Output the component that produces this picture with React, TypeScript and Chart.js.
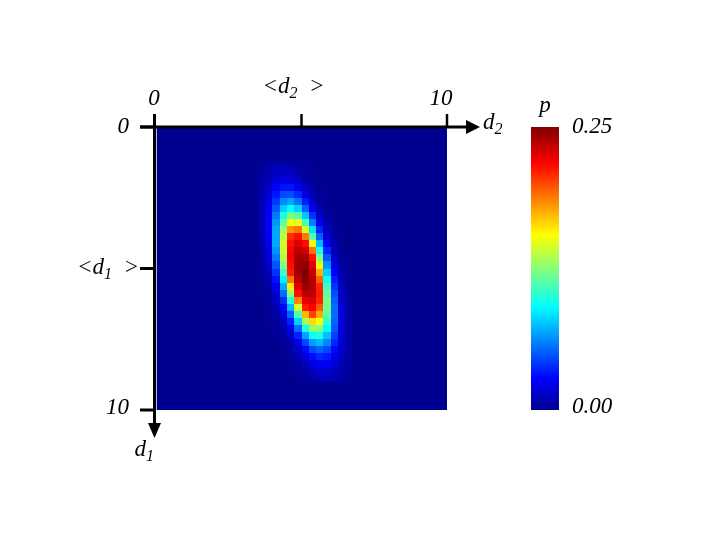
import React, { useEffect, useRef } from 'react';
import { Chart, registerables } from 'chart.js';

Chart.register(...registerables);

// d2 (horizontal) cell centres and d1 (vertical) cell centres
const d2Centers = [3.625, 3.875, 4.125, 4.375, 4.625, 4.875, 5.125, 5.375, 5.625, 5.875, 6.125, 6.375, 6.625];
const d1Centers = [
  1.375, 1.625, 1.875, 2.125, 2.375, 2.625, 2.875, 3.125, 3.375, 3.625, 3.875,
  4.125, 4.375, 4.625, 4.875, 5.125, 5.375, 5.625, 5.875, 6.125, 6.375,
  6.625, 6.875, 7.125, 7.375, 7.625, 7.875, 8.125, 8.375, 8.625, 8.875,
];

// probability p per cell as read from the colour scale (rows follow d1Centers,
// columns follow d2Centers); 0 everywhere else
const density = [
  [0.003, 0.006, 0.008, 0.009, 0.007, 0.005, 0.002, 0.001, 0, 0, 0, 0, 0],
  [0.004, 0.008, 0.012, 0.014, 0.013, 0.008, 0.004, 0.001, 0, 0, 0, 0, 0],
  [0.005, 0.011, 0.018, 0.022, 0.020, 0.014, 0.007, 0.003, 0.001, 0, 0, 0, 0],
  [0.006, 0.014, 0.025, 0.032, 0.032, 0.023, 0.013, 0.005, 0.002, 0, 0, 0, 0],
  [0.007, 0.017, 0.033, 0.046, 0.047, 0.037, 0.021, 0.009, 0.003, 0.001, 0, 0, 0],
  [0.008, 0.021, 0.041, 0.061, 0.068, 0.056, 0.034, 0.015, 0.005, 0.001, 0, 0, 0],
  [0.008, 0.024, 0.050, 0.079, 0.092, 0.080, 0.052, 0.025, 0.009, 0.002, 0, 0, 0],
  [0.009, 0.026, 0.058, 0.097, 0.121, 0.112, 0.077, 0.039, 0.015, 0.004, 0.001, 0, 0],
  [0.009, 0.027, 0.065, 0.115, 0.151, 0.148, 0.108, 0.059, 0.024, 0.007, 0.002, 0, 0],
  [0.008, 0.027, 0.069, 0.130, 0.181, 0.188, 0.146, 0.084, 0.036, 0.011, 0.003, 0, 0],
  [0.007, 0.026, 0.070, 0.140, 0.207, 0.215, 0.188, 0.115, 0.052, 0.018, 0.004, 0.001, 0],
  [0.006, 0.024, 0.069, 0.145, 0.215, 0.226, 0.216, 0.150, 0.073, 0.026, 0.007, 0.001, 0],
  [0.005, 0.021, 0.064, 0.143, 0.218, 0.235, 0.229, 0.189, 0.096, 0.037, 0.010, 0.002, 0],
  [0.004, 0.018, 0.057, 0.136, 0.219, 0.241, 0.239, 0.215, 0.123, 0.050, 0.015, 0.003, 0.001],
  [0.003, 0.014, 0.049, 0.123, 0.216, 0.243, 0.246, 0.225, 0.150, 0.064, 0.020, 0.005, 0.001],
  [0.002, 0.011, 0.040, 0.107, 0.211, 0.241, 0.250, 0.232, 0.175, 0.080, 0.027, 0.007, 0.001],
  [0.002, 0.008, 0.031, 0.089, 0.188, 0.235, 0.249, 0.236, 0.195, 0.094, 0.034, 0.009, 0.002],
  [0.001, 0.006, 0.024, 0.071, 0.159, 0.226, 0.244, 0.237, 0.209, 0.107, 0.041, 0.012, 0.002],
  [0.001, 0.004, 0.017, 0.054, 0.128, 0.215, 0.236, 0.234, 0.211, 0.116, 0.047, 0.014, 0.003],
  [0, 0.003, 0.012, 0.039, 0.099, 0.186, 0.225, 0.228, 0.209, 0.121, 0.052, 0.016, 0.004],
  [0, 0.002, 0.008, 0.027, 0.073, 0.146, 0.212, 0.218, 0.196, 0.120, 0.055, 0.018, 0.005],
  [0, 0.001, 0.005, 0.018, 0.052, 0.110, 0.173, 0.202, 0.176, 0.114, 0.055, 0.020, 0.005],
  [0, 0.001, 0.003, 0.012, 0.035, 0.079, 0.132, 0.164, 0.152, 0.104, 0.053, 0.020, 0.006],
  [0, 0, 0.002, 0.007, 0.023, 0.055, 0.097, 0.127, 0.125, 0.091, 0.049, 0.020, 0.006],
  [0, 0, 0.001, 0.004, 0.014, 0.036, 0.068, 0.094, 0.098, 0.076, 0.044, 0.019, 0.006],
  [0, 0, 0, 0.002, 0.008, 0.023, 0.045, 0.067, 0.074, 0.061, 0.037, 0.017, 0.006],
  [0, 0, 0, 0.001, 0.005, 0.014, 0.029, 0.046, 0.053, 0.046, 0.030, 0.015, 0.005],
  [0, 0, 0, 0.001, 0.003, 0.008, 0.018, 0.030, 0.037, 0.034, 0.023, 0.012, 0.005],
  [0, 0, 0, 0, 0.001, 0.004, 0.010, 0.019, 0.024, 0.024, 0.017, 0.009, 0.004],
  [0, 0, 0, 0, 0.001, 0.002, 0.006, 0.011, 0.015, 0.016, 0.012, 0.007, 0.003],
  [0, 0, 0, 0, 0, 0.001, 0.003, 0.006, 0.009, 0.010, 0.009, 0.005, 0.002],
];

// axis ticks ("_" marks a subscript character)
const d2TickValues = [0, 5, 10];
const d2TickLabels = ['0', '<d_2  >', '10'];
const d1TickValues = [0, 5, 10];
const d1TickLabels = ['0', '<d_1  >', '10'];
const d2AxisTitle = 'd_2';
const d1AxisTitle = 'd_1';

// colour bar
const colorbarTitle = 'p';
const colorbarTickValues = [0, 0.25];
const colorbarTickLabels = ['0.00', '0.25'];

const P_MIN = colorbarTickValues[0];
const P_MAX = colorbarTickValues[colorbarTickValues.length - 1];

const JET: [number, number, number, number][] = [
  [0, 0, 0, 143],
  [0.111, 0, 0, 255],
  [0.365, 0, 255, 255],
  [0.619, 255, 255, 0],
  [0.873, 255, 0, 0],
  [1, 128, 0, 0],
];

function jet(t: number): string {
  const v = Math.max(0, Math.min(1, t));
  for (let i = 1; i < JET.length; i++) {
    if (v <= JET[i][0]) {
      const a = JET[i - 1];
      const b = JET[i];
      const f = (v - a[0]) / (b[0] - a[0]);
      const r = Math.round(a[1] + (b[1] - a[1]) * f);
      const g = Math.round(a[2] + (b[2] - a[2]) * f);
      const bl = Math.round(a[3] + (b[3] - a[3]) * f);
      return `rgb(${r},${g},${bl})`;
    }
  }
  return 'rgb(128,0,0)';
}

const FONT_FAMILY = '"Liberation Serif", "DejaVu Serif", serif';
const MAIN_SIZE = 23;
const SUB_SIZE = 16;

function parseRich(text: string): { t: string; sub: boolean }[] {
  const parts: { t: string; sub: boolean }[] = [];
  let buf = '';
  for (let i = 0; i < text.length; i++) {
    if (text[i] === '_' && i + 1 < text.length) {
      if (buf) parts.push({ t: buf, sub: false });
      buf = '';
      parts.push({ t: text[i + 1], sub: true });
      i++;
    } else {
      buf += text[i];
    }
  }
  if (buf) parts.push({ t: buf, sub: false });
  return parts;
}

function drawRich(ctx: CanvasRenderingContext2D, text: string, x: number, y: number, align: 'left' | 'center' | 'right') {
  const parts = parseRich(text);
  const fontFor = (sub: boolean) => `italic ${sub ? SUB_SIZE : MAIN_SIZE}px ${FONT_FAMILY}`;
  let total = 0;
  const widths = parts.map((p) => {
    ctx.font = fontFor(p.sub);
    const w = ctx.measureText(p.t).width;
    total += w;
    return w;
  });
  let cx = align === 'left' ? x : align === 'center' ? x - total / 2 : x - total;
  ctx.textAlign = 'left';
  ctx.textBaseline = 'alphabetic';
  parts.forEach((p, i) => {
    ctx.font = fontFor(p.sub);
    ctx.fillText(p.t, cx, p.sub ? y + 5 : y);
    cx += widths[i];
  });
}

const heatmapPlugin = {
  id: 'heatmapCells',
  beforeDatasetsDraw(chart: any) {
    const { ctx, chartArea, scales } = chart;
    const xs = scales.x;
    const ys = scales.y;
    ctx.save();
    ctx.fillStyle = jet(0);
    ctx.fillRect(chartArea.left, chartArea.top, chartArea.right - chartArea.left, chartArea.bottom - chartArea.top);
    const hw = (d2Centers[1] - d2Centers[0]) / 2;
    const hh = (d1Centers[1] - d1Centers[0]) / 2;
    for (const c of chart.data.datasets[0].data as any[]) {
      if (!c.v) continue;
      const x0 = Math.round(xs.getPixelForValue(c.x - hw));
      const x1 = Math.round(xs.getPixelForValue(c.x + hw));
      const ya = Math.round(ys.getPixelForValue(c.y - hh));
      const yb = Math.round(ys.getPixelForValue(c.y + hh));
      ctx.fillStyle = jet((c.v - P_MIN) / (P_MAX - P_MIN));
      ctx.fillRect(x0, Math.min(ya, yb), x1 - x0, Math.abs(yb - ya));
    }
    // faint left edge line of the image
    ctx.fillStyle = 'rgba(200,200,220,0.9)';
    ctx.fillRect(chartArea.left, chartArea.top, 1, chartArea.bottom - chartArea.top);
    ctx.restore();
  },
};

const axesPlugin = {
  id: 'arrowAxes',
  afterDraw(chart: any) {
    const { ctx, chartArea, scales } = chart;
    const xs = scales.x;
    const ys = scales.y;
    const { left, top, right, bottom } = chartArea;
    ctx.save();
    ctx.fillStyle = '#000';
    ctx.strokeStyle = '#000';

    const axisX = xs.getPixelForValue(0) - 1.5;
    const axisY = ys.getPixelForValue(0);

    // horizontal (d2) axis with arrow
    ctx.lineWidth = 3;
    ctx.beginPath();
    ctx.moveTo(left - 16, axisY);
    ctx.lineTo(right + 22, axisY);
    ctx.stroke();
    ctx.beginPath();
    ctx.moveTo(right + 33, axisY);
    ctx.lineTo(right + 19, axisY - 7);
    ctx.lineTo(right + 19, axisY + 7);
    ctx.closePath();
    ctx.fill();

    // vertical (d1) axis with arrow
    ctx.beginPath();
    ctx.moveTo(axisX, top - 13);
    ctx.lineTo(axisX, bottom + 16);
    ctx.stroke();
    ctx.beginPath();
    ctx.moveTo(axisX, bottom + 28);
    ctx.lineTo(axisX - 6.5, bottom + 13);
    ctx.lineTo(axisX + 6.5, bottom + 13);
    ctx.closePath();
    ctx.fill();

    // d2 ticks (upwards)
    ctx.lineWidth = 2.5;
    d2TickValues.forEach((v, i) => {
      const px = i === 0 ? axisX : xs.getPixelForValue(v);
      ctx.beginPath();
      ctx.moveTo(px, top - 13);
      ctx.lineTo(px, axisY);
      ctx.stroke();
    });
    // d1 ticks (leftwards)
    ctx.lineWidth = 3;
    d1TickValues.forEach((v) => {
      const py = ys.getPixelForValue(v);
      ctx.beginPath();
      ctx.moveTo(left - 16, py);
      ctx.lineTo(axisX, py);
      ctx.stroke();
    });

    // d2 tick labels
    d2TickLabels.forEach((lab, i) => {
      const px = xs.getPixelForValue(d2TickValues[i]);
      const rich = lab.includes('_');
      drawRich(ctx, lab, px - (rich ? 8 : i === 0 ? 2 : 6), rich ? top - 34 : top - 22, 'center');
    });
    // d1 tick labels
    d1TickLabels.forEach((lab, i) => {
      const py = ys.getPixelForValue(d1TickValues[i]);
      const rich = lab.includes('_');
      if (rich) drawRich(ctx, lab, left - 17, py + 5, 'right');
      else drawRich(ctx, lab, left - 27, i === 0 ? py + 6 : py + 4, 'right');
    });

    // axis titles
    drawRich(ctx, d2AxisTitle, right + 36, axisY + 2, 'left');
    drawRich(ctx, d1AxisTitle, axisX - 20, bottom + 46, 'left');

    // colour bar
    const cbLeft = right + 84;
    const cbWidth = 28;
    const cbTop = ys.getPixelForValue(0);
    const cbBottom = ys.getPixelForValue(10);
    const grad = ctx.createLinearGradient(0, cbBottom, 0, cbTop);
    JET.forEach((s) => grad.addColorStop(s[0], `rgb(${s[1]},${s[2]},${s[3]})`));
    ctx.fillStyle = grad;
    ctx.fillRect(cbLeft, cbTop, cbWidth, cbBottom - cbTop);
    ctx.fillStyle = '#000';
    const pToY = (p: number) => cbBottom - ((p - P_MIN) / (P_MAX - P_MIN)) * (cbBottom - cbTop);
    colorbarTickValues.forEach((p, i) => {
      drawRich(ctx, colorbarTickLabels[i], cbLeft + cbWidth + 13, pToY(p) + (i === 0 ? 3 : 6), 'left');
    });
    drawRich(ctx, colorbarTitle, cbLeft + cbWidth / 2, cbTop - 15, 'center');

    ctx.restore();
  },
};

export default function App() {
  const ref = useRef<HTMLCanvasElement>(null);
  useEffect(() => {
    const canvas = ref.current;
    if (!canvas) return;
    const cells = d1Centers.flatMap((y, i) => d2Centers.map((x, j) => ({ x, y, v: density[i][j] })));
    const chart = new Chart(canvas, {
      type: 'scatter',
      data: {
        datasets: [{ label: 'p', data: cells as any, pointRadius: 0, pointHoverRadius: 0 }],
      },
      options: {
        responsive: false,
        animation: false,
        events: [],
        layout: { padding: { left: 156, right: 273, top: 127, bottom: 130 } },
        scales: {
          x: { type: 'linear', min: 0, max: 10, display: false },
          y: { type: 'linear', min: 0, max: 10, reverse: true, display: false },
        },
        plugins: { legend: { display: false }, tooltip: { enabled: false } },
      },
      plugins: [heatmapPlugin, axesPlugin],
    });
    return () => chart.destroy();
  }, []);
  return (
    <div style={{ position: 'absolute', left: 0, top: 0, width: 720, height: 540, background: '#fff' }}>
      <canvas ref={ref} width={720} height={540} style={{ display: 'block', width: 720, height: 540 }} />
    </div>
  );
}
